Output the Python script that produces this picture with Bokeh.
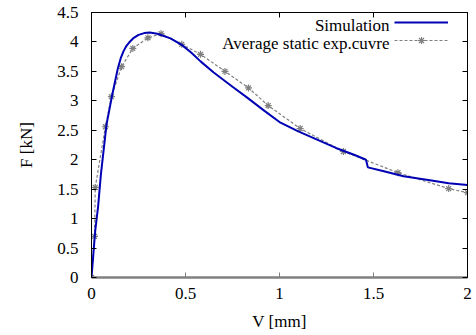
from bokeh.plotting import figure
from bokeh.models import (LinearAxis, Legend, LegendItem, Label, FixedTicker,
                          Range1d)
from bokeh.embed import file_html
from bokeh.resources import INLINE

# Simulation curve
sim_v = [0, 0.01, 0.02, 0.035, 0.05, 0.08, 0.11, 0.14, 0.155, 0.17, 0.185, 0.2,
         0.225, 0.25, 0.28, 0.31, 0.35, 0.42, 0.48, 0.53, 0.58, 0.65, 0.75, 0.83,
         0.92, 1.0, 1.1, 1.2, 1.3, 1.4, 1.46, 1.47, 1.55, 1.66, 1.8, 1.9, 2.0]
sim_f = [0, 0.4, 0.8, 1.2, 1.75, 2.6, 3.1, 3.55, 3.72, 3.84, 3.93, 3.99,
         4.07, 4.12, 4.15, 4.16, 4.14, 4.06, 3.95, 3.82, 3.67, 3.48, 3.24, 3.05,
         2.83, 2.64, 2.48, 2.34, 2.2, 2.08, 2.0, 1.87, 1.81, 1.72, 1.65, 1.6, 1.57]

# Average static experimental curve
exp_v = [0, 0.016, 0.02, 0.074, 0.106, 0.16, 0.22, 0.30, 0.37, 0.48, 0.58, 0.71,
         0.835, 0.94, 1.11, 1.34, 1.63, 1.90, 2.0]
exp_f = [0, 0.7, 1.53, 2.56, 3.07, 3.58, 3.89, 4.07, 4.14, 3.96, 3.79, 3.50,
         3.22, 2.92, 2.53, 2.14, 1.78, 1.51, 1.44]

x_ticks = [0, 0.5, 1, 1.5, 2]
y_ticks = [0, 0.5, 1, 1.5, 2, 2.5, 3, 3.5, 4, 4.5]

FONT = "Liberation Serif"

p = figure(width=476, height=335, output_backend="svg", toolbar_location=None,
           x_range=Range1d(0, 2), y_range=Range1d(0, 4.5),
           min_border_left=91, min_border_right=9, min_border_top=12,
           min_border_bottom=58)
p.grid.visible = False
p.outline_line_color = "black"
p.outline_line_width = 1
p.background_fill_color = "white"
p.border_fill_color = "white"

# main axes
for ax in (p.xaxis[0], p.yaxis[0]):
    ax.major_label_text_font = FONT
    ax.major_label_text_font_size = "17px"
    ax.major_label_text_color = "black"
    ax.axis_label_text_font = FONT
    ax.axis_label_text_font_size = "17px"
    ax.axis_label_text_font_style = "normal"
    ax.axis_label_text_color = "black"
    ax.minor_tick_line_color = None
    ax.major_tick_in = 5
    ax.major_tick_out = 0

p.xaxis[0].ticker = FixedTicker(ticks=x_ticks)
p.yaxis[0].ticker = FixedTicker(ticks=y_ticks)
p.xaxis[0].axis_label = "V [mm]"
p.yaxis[0].axis_label = "F [kN]"
p.xaxis[0].axis_line_color = "#808080"
p.xaxis[0].axis_line_width = 2.5
p.xaxis[0].major_tick_line_color = "#808080"
p.xaxis[0].major_label_standoff = 10
p.xaxis[0].axis_label_standoff = 10
p.yaxis[0].axis_line_color = "black"
p.yaxis[0].major_tick_line_color = "black"
p.yaxis[0].major_label_standoff = 13
p.yaxis[0].axis_label_standoff = 18

# mirrored tick axes (no labels)
top = LinearAxis(ticker=FixedTicker(ticks=x_ticks), major_label_text_color=None,
                 major_tick_in=5, major_tick_out=0, minor_tick_line_color=None,
                 axis_line_color="black", major_label_standoff=0)
right = LinearAxis(ticker=FixedTicker(ticks=y_ticks), major_label_text_color=None,
                   major_tick_in=5, major_tick_out=0, minor_tick_line_color=None,
                   axis_line_color="black", major_label_standoff=0)
p.add_layout(top, "above")
p.add_layout(right, "right")

exp_line = p.line(exp_v, exp_f, line_color="#808080", line_width=1.2, line_dash="3 2")
exp_pts = p.scatter(exp_v, exp_f, marker="asterisk", size=7, line_color="#808080",
                    line_width=1.2)
sim_line = p.line(sim_v, sim_f, line_color="#0000b4", line_width=2)

legend = Legend(items=[LegendItem(label=" ", renderers=[sim_line]),
                       LegendItem(label=" ", renderers=[exp_line, exp_pts])],
                location=(303, 228), glyph_width=54, glyph_height=18,
                label_height=18, label_width=1, padding=0, margin=0, spacing=0,
                label_standoff=0, background_fill_alpha=0, border_line_alpha=0,
                label_text_color=None)
p.add_layout(legend, "center")

p.add_layout(Label(x=298, y=252, x_units="screen", y_units="screen",
                   text="Simulation", text_font=FONT, text_font_size="17px",
                   text_color="black", text_align="right", text_baseline="middle"))
p.add_layout(Label(x=298, y=234, x_units="screen", y_units="screen",
                   text="Average static exp.cuvre", text_font=FONT,
                   text_color="black", text_font_size="17px",
                   text_align="right", text_baseline="middle"))

open("out.html", "w").write(file_html(p, INLINE))
